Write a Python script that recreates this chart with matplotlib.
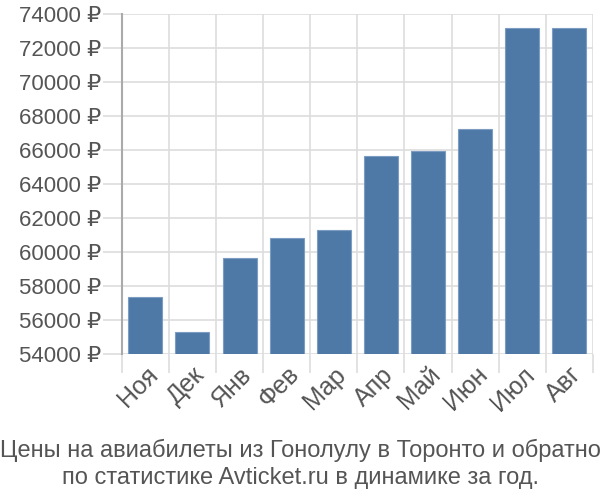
import matplotlib
matplotlib.use("Agg")
import matplotlib.pyplot as plt
from matplotlib.ticker import FuncFormatter

plt.rcParams['font.family'] = ['Liberation Sans', 'DejaVu Sans']

# data
months = ['Ноя', 'Дек', 'Янв', 'Фев', 'Мар', 'Апр', 'Май', 'Июн', 'Июл', 'Авг']
prices = [57350, 55300, 59620, 60800, 61270, 65650, 65920, 67240, 73170, 73170]
y_ticks = list(range(54000, 74001, 2000))

title = "Цены на авиабилеты из Гонолулу в Торонто и обратно\nпо статистике Avticket.ru в динамике за год."

fig = plt.figure(figsize=(6, 5), dpi=100)
ax = fig.add_axes([0.203, 0.292, 0.785, 0.68])

x = list(range(len(months)))
ax.bar(x, prices, width=0.72, bottom=0, color='#4e79a7', edgecolor='#7d9cc2',
       linewidth=0.8, zorder=3)

ax.set_xlim(-0.5, len(months) - 0.5)
ax.set_ylim(54000, 74000)
ax.set_yticks(y_ticks)
ax.yaxis.set_major_formatter(FuncFormatter(lambda v, p: f"{int(v)} ₽"))

# grid on category boundaries
ax.set_xticks([i - 0.5 for i in x] + [len(months) - 0.5], minor=True)
ax.set_xticks(x)
ax.set_xticklabels(months, rotation=45, ha='right', va='top', rotation_mode='anchor')
ax.grid(True, which='minor', axis='x', color='#dddddd', linewidth=1.2, zorder=0)
ax.grid(True, which='major', axis='y', color='#dddddd', linewidth=1.2, zorder=0)

ax.tick_params(axis='x', which='major', length=0, labelsize=18, colors='#555555', pad=6)
ax.tick_params(axis='x', which='minor', length=14, color='#dddddd', width=1.2)
ax.tick_params(axis='y', length=14, color='#dddddd', width=1.2, labelsize=16,
               labelcolor='#555555', pad=1)

for s in ['top', 'right', 'bottom']:
    ax.spines[s].set_visible(False)
ax.spines['left'].set_color('#aaaaaa')
ax.spines['left'].set_linewidth(1.5)

fig.text(0.5, 0.072, title, ha='center', va='center', fontsize=17,
         color='#555555', linespacing=1.25)

fig.savefig('out.png', dpi=100)
